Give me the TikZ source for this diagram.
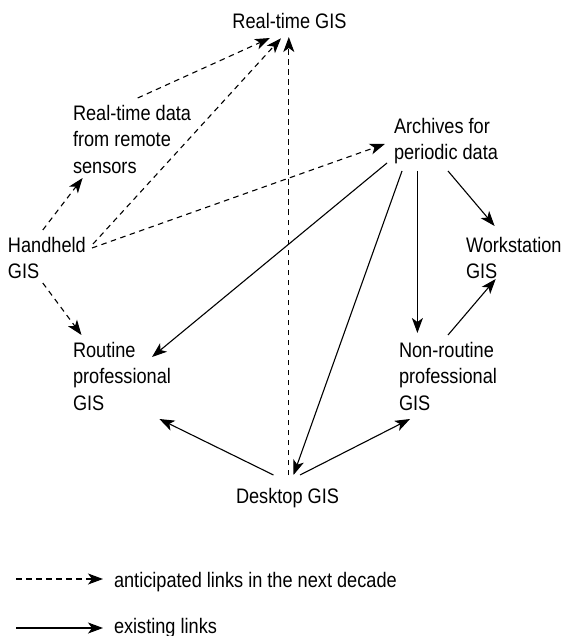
\documentclass[tikz,border=0pt]{standalone}
\usepackage{fontspec}
\setmainfont[FakeStretch=0.865]{Liberation Sans}
\usetikzlibrary{arrows.meta}
\begin{document}
\begin{tikzpicture}[x=1pt,y=-1pt,
  lbl/.style={inner sep=0pt,outer sep=0pt,align=left,font=\fontsize{21}{26.7}\selectfont},
  link/.style={line width=1.1pt,-{Stealth[length=15pt,width=11pt,inset=4pt]}},
  ant/.style={link,dash pattern=on 5.5pt off 4.5pt},
  exist/.style={link}]
\useasboundingbox (0,0) rectangle (567,636);
% nodes
\node[lbl,anchor=base] (rt) at (289.5,28.3) {Real-time GIS};
\node[lbl,anchor=north west] (rtd) at (73,105) {Real-time data\\from remote\\sensors};
\node[lbl,anchor=north west] (arc) at (394,118) {Archives for\\periodic data};
\node[lbl,anchor=north west] (hh) at (8,237) {Handheld\\GIS};
\node[lbl,anchor=north west] (ws) at (466,237) {Workstation\\GIS};
\node[lbl,anchor=north west] (rp) at (73,342) {Routine\\professional\\GIS};
\node[lbl,anchor=north west] (nrp) at (399,342) {Non-routine\\professional\\GIS};
\node[lbl,anchor=base] (dg) at (287.5,503) {Desktop GIS};
% anticipated links
\draw[ant] ([shift={(64.7,-7)}]rtd.north west) -- ([shift={(-19.5,9.7)}]rt.base);
\draw[ant] ([shift={(85,7)}]hh.north west) -- ([shift={(-8.5,10)}]rt.base);
\draw[ant] ([shift={(1.3,-28)}]dg.base) -- ([shift={(-0.7,8.7)}]rt.base);
\draw[ant] ([shift={(84,11)}]hh.north west) -- ([shift={(-9.2,26)}]arc.north west);
\draw[ant] ([shift={(34.8,-7)}]hh.north west) -- ([shift={(9.6,73)}]rtd.north west);
\draw[ant] ([shift={(34.8,46)}]hh.north west) -- ([shift={(8.5,-7)}]rp.north west);
% existing links
\draw[exist] ([shift={(-7,45)}]arc.north west) -- ([shift={(79,15)}]rp.north west);
\draw[exist] ([shift={(8,53)}]arc.north west) -- ([shift={(6,-28)}]dg.base);
\draw[exist] ([shift={(23.4,53)}]arc.north west) -- ([shift={(18.4,-9)}]nrp.north west);
\draw[exist] ([shift={(54,53)}]arc.north west) -- ([shift={(28.6,-11)}]ws.north west);
\draw[exist] ([shift={(49,-7)}]nrp.north west) -- ([shift={(29.7,42)}]ws.north west);
\draw[exist] ([shift={(-14,-28)}]dg.base) -- ([shift={(86.4,77)}]rp.north west);
\draw[exist] ([shift={(12.5,-28)}]dg.base) -- ([shift={(11,77)}]nrp.north west);
% legend
\node[lbl,anchor=base west] (legA) at (114,587) {anticipated links in the next decade};
\node[lbl,anchor=base west] (legE) at (114,633) {existing links};
\coordinate (la) at (16,579);
\coordinate (le) at (16,628);
\draw[ant] (la) -- ([xshift=-11pt]legA.base west |- la);
\draw[exist] (le) -- ([xshift=-11pt]legE.base west |- le);
\end{tikzpicture}
\end{document}
